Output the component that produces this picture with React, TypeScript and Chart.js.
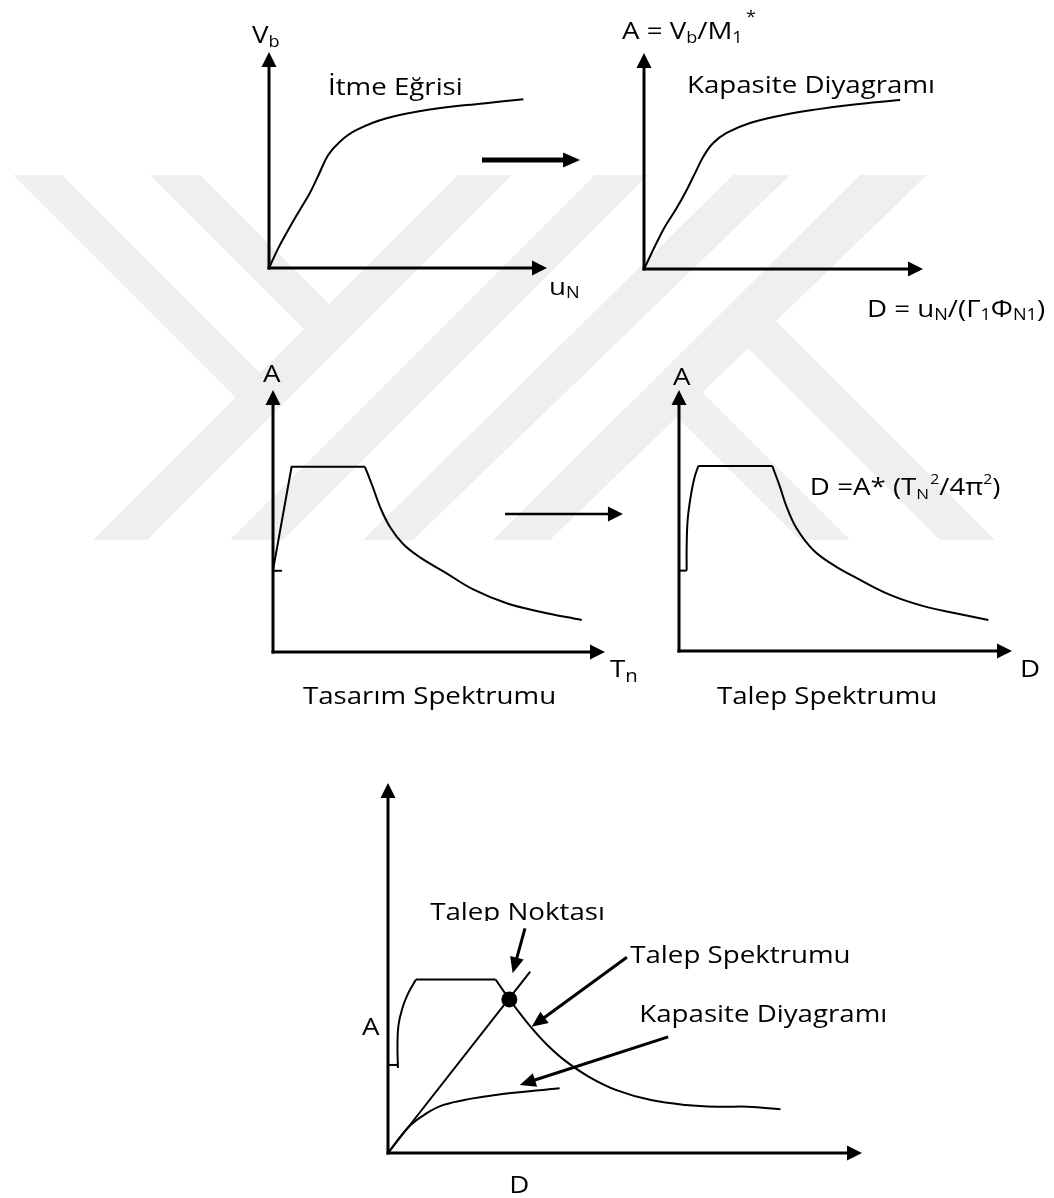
import React, { useEffect, useRef } from "react";
import { Chart, registerables } from "chart.js";

Chart.register(...registerables);

const PAGE_W = 1054;
const PAGE_H = 1198;
const FONT = '"Open Sans", "DejaVu Sans", sans-serif';
const TEXT_SIZE = 24.5;
const TEXT_STRETCH = 1.13;
const INK = "#000000";
const WATERMARK = "#efefef";

// ---------------- data (axis units 0..10 on every diagram) ----------------
// 1) İtme Eğrisi : V_b against u_N
const pushoverU = [0, 0.33, 0.69, 1.11, 1.47, 1.77, 2.13, 2.55, 3.15, 4.23, 5.91, 7.71, 9.15];
const pushoverVb = [0, 0.91, 1.76, 2.69, 3.47, 4.27, 5.23, 5.85, 6.39, 6.93, 7.36, 7.62, 7.81];

// 2) Kapasite Diyagramı : A against D
const capacityD = [0, 0.69, 1.17, 1.53, 1.83, 2.13, 2.48, 2.96, 3.8, 4.99, 6.19, 7.38, 9.18];
const capacityA = [0, 1.82, 2.82, 3.66, 4.44, 5.21, 5.83, 6.3, 6.76, 7.13, 7.39, 7.59, 7.82];

// 3) Tasarım Spektrumu : A against T_n
const designTickT = [0, 0.27];
const designTickA = [3.1, 3.1];
const designRampT = [0.01, 0.56, 2.77];
const designRampA = [3.19, 7.07, 7.07];
const designDecayT = [2.77, 3.02, 3.22, 3.52, 3.92, 4.43, 5.23, 6.03, 7.04, 8.04, 9.3];
const designDecayA = [7.07, 6.25, 5.55, 4.78, 4.12, 3.61, 3.0, 2.39, 1.86, 1.54, 1.22];

// 4) Talep Spektrumu : A against D
const demandTickD = [0, 0.23];
const demandTickA = [3.08, 3.08];
const demandRiseD = [0.23, 0.23, 0.26, 0.35, 0.46, 0.58];
const demandRiseA = [3.08, 4.0, 5.02, 5.91, 6.62, 7.09];
const demandPlateauD = [0.58, 2.8];
const demandPlateauA = [7.09, 7.09];
const demandDecayD = [2.8, 3.03, 3.23, 3.53, 4.03, 4.63, 5.34, 6.34, 7.34, 8.34, 9.29];
const demandDecayA = [7.09, 6.3, 5.53, 4.7, 3.87, 3.3, 2.79, 2.15, 1.72, 1.44, 1.19];

// 5) Talep noktası : both curves on A–D axes
const comboTickD = [0, 0.19];
const comboTickA = [2.38, 2.38];
const comboRiseD = [0.21, 0.2, 0.22, 0.3, 0.42, 0.59];
const comboRiseA = [2.3, 2.9, 3.45, 3.9, 4.3, 4.69];
const comboPlateauD = [0.59, 2.27];
const comboPlateauA = [4.69, 4.69];
const comboDropD = [2.27, 2.56];
const comboDropA = [4.69, 4.15];
const comboDecayD = [2.56, 2.78, 3.07, 3.36, 3.72, 4.24, 4.82, 5.55, 6.28, 7.01, 7.59, 8.28];
const comboDecayA = [4.15, 3.78, 3.32, 2.92, 2.51, 2.06, 1.7, 1.43, 1.3, 1.25, 1.25, 1.18];
const comboCapacityD = [0, 0.44, 0.81, 1.17, 1.76, 2.27, 3.62];
const comboCapacityA = [0, 0.71, 1.07, 1.3, 1.47, 1.57, 1.75];
const comboRadialD = [0, 3.0];
const comboRadialA = [0, 4.9];
const demandPointD = [2.56];
const demandPointA = [4.15];

// ---------------- watermark (background decoration, page pixels) ----------------
const WATERMARK_BANDS: number[][] = [
  [93, 540, 147, 540, 512, 175, 458, 175],
  [230, 540, 283, 540, 648, 175, 595, 175],
  [363, 540, 413, 540, 790, 175, 733, 175],
  [493, 540, 550, 540, 927, 175, 860, 175],
  [13, 175, 62, 175, 285.75, 398.75, 236.75, 398.75],
  [150, 175, 200, 175, 355, 330, 305, 330],
  [650, 390, 700, 390, 850, 540, 800, 540],
  [719, 319, 774, 319, 995, 540, 940, 540],
];

// ---------------- types ----------------
type Run = { t: string; size?: number; dy?: number; dx?: number };
type Label = { x: number; y: number; runs: Run[]; clipBelow?: number };
type Arrow = { x1: number; y1: number; x2: number; y2: number; width: number; headLen: number; headWidth: number };
type Series = { xs: number[]; ys: number[]; tension?: number; width?: number; dot?: number };
type Area = { left: number; top: number; right: number; bottom: number };
type Spec = { area: Area; series: Series[]; labels: Label[]; arrows: Arrow[]; watermark?: boolean };

const SUB = 16;

const SPECS: Spec[] = [
  {
    area: { left: 269, top: 52, right: 547, bottom: 268 },
    watermark: true,
    series: [{ xs: pushoverU, ys: pushoverVb, tension: 0.4 }],
    labels: [
      { x: -0.61, y: 10.42, runs: [{ t: "V" }, { t: "b", size: SUB, dy: 4 }] },
      { x: 2.12, y: 8.01, runs: [{ t: "İtme Eğrisi" }] },
      { x: 10.07, y: -1.25, runs: [{ t: "u" }, { t: "N", size: SUB, dy: 3 }] },
    ],
    arrows: [{ x1: 7.66, y1: 5.0, x2: 11.19, y2: 5.0, width: 5, headLen: 17, headWidth: 15 }],
  },
  {
    area: { left: 644, top: 53, right: 923, bottom: 269 },
    series: [{ xs: capacityD, ys: capacityA, tension: 0.4 }],
    labels: [
      {
        x: -0.79,
        y: 10.65,
        runs: [
          { t: "A = V" },
          { t: "b", size: SUB, dy: 4 },
          { t: "/M" },
          { t: "1", size: SUB, dy: 4 },
          { t: "*", size: SUB, dy: -17, dx: 3 },
        ],
      },
      { x: 1.54, y: 8.15, runs: [{ t: "Kapasite Diyagramı" }] },
      {
        x: 7.99,
        y: -2.22,
        runs: [
          { t: "D = u" },
          { t: "N", size: SUB, dy: 3 },
          { t: "/(Γ" },
          { t: "1", size: SUB, dy: 3 },
          { t: "Φ" },
          { t: "N1", size: SUB, dy: 3 },
          { t: ")" },
        ],
      },
    ],
    arrows: [],
  },
  {
    area: { left: 273, top: 390, right: 605, bottom: 652 },
    series: [
      { xs: designTickT, ys: designTickA },
      { xs: designRampT, ys: designRampA },
      { xs: designDecayT, ys: designDecayA, tension: 0.4 },
    ],
    labels: [
      { x: -0.3, y: 10.31, runs: [{ t: "A" }] },
      { x: 10.15, y: -0.95, runs: [{ t: "T" }, { t: "n", size: 18, dy: 5 }] },
      { x: 0.9, y: -1.98, runs: [{ t: "Tasarım Spektrumu" }] },
    ],
    arrows: [{ x1: 6.99, y1: 5.27, x2: 10.54, y2: 5.27, width: 2.5, headLen: 15, headWidth: 15 }],
  },
  {
    area: { left: 679, top: 390, right: 1012, bottom: 651 },
    series: [
      { xs: demandTickD, ys: demandTickA },
      { xs: demandRiseD, ys: demandRiseA, tension: 0.4 },
      { xs: demandPlateauD, ys: demandPlateauA },
      { xs: demandDecayD, ys: demandDecayA, tension: 0.4 },
    ],
    labels: [
      { x: -0.18, y: 10.19, runs: [{ t: "A" }] },
      {
        x: 3.93,
        y: 5.98,
        runs: [
          { t: "D =A* (T" },
          { t: "N", size: 15, dy: 4 },
          { t: "2", size: 14, dy: -11, dx: 1 },
          { t: "/4π" },
          { t: "2", size: 14, dy: -11 },
          { t: ")" },
        ],
      },
      { x: 10.24, y: -1.0, runs: [{ t: "D" }] },
      { x: 1.14, y: -2.03, runs: [{ t: "Talep Spektrumu" }] },
    ],
    arrows: [],
  },
  {
    area: { left: 388, top: 783, right: 862, bottom: 1153 },
    series: [
      { xs: comboTickD, ys: comboTickA },
      { xs: comboRiseD, ys: comboRiseA, tension: 0.4 },
      { xs: comboPlateauD, ys: comboPlateauA },
      { xs: comboDropD, ys: comboDropA },
      { xs: comboDecayD, ys: comboDecayA, tension: 0.4 },
      { xs: comboCapacityD, ys: comboCapacityA, tension: 0.4 },
      { xs: comboRadialD, ys: comboRadialA },
      { xs: demandPointD, ys: demandPointA, dot: 8 },
    ],
    labels: [
      { x: -0.55, y: 3.19, runs: [{ t: "A" }] },
      { x: 2.56, y: -1.08, runs: [{ t: "D" }] },
      { x: 0.89, y: 6.3, runs: [{ t: "Talep Noktası" }], clipBelow: 1 },
      { x: 5.11, y: 5.14, runs: [{ t: "Talep Spektrumu" }] },
      { x: 5.3, y: 3.54, runs: [{ t: "Kapasite Diyagramı" }] },
    ],
    arrows: [
      { x1: 2.89, y1: 6.07, x2: 2.63, y2: 4.86, width: 3, headLen: 16, headWidth: 14 },
      { x1: 5.04, y1: 5.29, x2: 3.03, y2: 3.41, width: 3, headLen: 16, headWidth: 14 },
      { x1: 5.91, y1: 3.14, x2: 2.78, y2: 1.84, width: 3, headLen: 16, headWidth: 14 },
    ],
  },
];

// ---------------- drawing helpers ----------------
function drawArrow(
  ctx: CanvasRenderingContext2D,
  x1: number,
  y1: number,
  x2: number,
  y2: number,
  width: number,
  headLen: number,
  headWidth: number
) {
  const ang = Math.atan2(y2 - y1, x2 - x1);
  const c = Math.cos(ang);
  const s = Math.sin(ang);
  const bx = x2 - headLen * c;
  const by = y2 - headLen * s;
  ctx.lineWidth = width;
  ctx.lineCap = "butt";
  ctx.beginPath();
  ctx.moveTo(x1, y1);
  ctx.lineTo(bx + c, by + s);
  ctx.stroke();
  ctx.beginPath();
  ctx.moveTo(x2, y2);
  ctx.lineTo(bx + (headWidth / 2) * s, by - (headWidth / 2) * c);
  ctx.lineTo(bx - (headWidth / 2) * s, by + (headWidth / 2) * c);
  ctx.closePath();
  ctx.fill();
}

function drawRich(ctx: CanvasRenderingContext2D, x: number, y: number, runs: Run[], clipBelow?: number) {
  ctx.save();
  if (clipBelow !== undefined) {
    ctx.beginPath();
    ctx.rect(0, 0, PAGE_W, y + clipBelow);
    ctx.clip();
  }
  ctx.translate(x, y);
  ctx.scale(TEXT_STRETCH, 1);
  ctx.textAlign = "left";
  ctx.textBaseline = "alphabetic";
  ctx.fillStyle = INK;
  let cx = 0;
  for (const r of runs) {
    ctx.font = `${r.size ?? TEXT_SIZE}px ${FONT}`;
    cx += r.dx ?? 0;
    ctx.fillText(r.t, cx, r.dy ?? 0);
    cx += ctx.measureText(r.t).width;
  }
  ctx.restore();
}

function drawWatermark(ctx: CanvasRenderingContext2D) {
  ctx.save();
  ctx.fillStyle = WATERMARK;
  for (const p of WATERMARK_BANDS) {
    ctx.beginPath();
    ctx.moveTo(p[0], p[1]);
    for (let i = 2; i < p.length; i += 2) ctx.lineTo(p[i], p[i + 1]);
    ctx.closePath();
    ctx.fill();
  }
  ctx.restore();
}

function makePlugin(spec: Spec) {
  return {
    id: "diagramDecor",
    beforeDraw(chart: any) {
      if (spec.watermark) drawWatermark(chart.ctx);
    },
    afterDatasetsDraw(chart: any) {
      const ctx: CanvasRenderingContext2D = chart.ctx;
      const { left, right, top, bottom } = chart.chartArea;
      const xs = chart.scales.x;
      const ys = chart.scales.y;
      ctx.save();
      ctx.strokeStyle = INK;
      ctx.fillStyle = INK;
      // axes with arrow heads
      drawArrow(ctx, left, bottom + 1.5, left, top, 3, 15, 15);
      drawArrow(ctx, left - 1.5, bottom, right, bottom, 3, 15, 15);
      for (const a of spec.arrows) {
        drawArrow(
          ctx,
          xs.getPixelForValue(a.x1),
          ys.getPixelForValue(a.y1),
          xs.getPixelForValue(a.x2),
          ys.getPixelForValue(a.y2),
          a.width,
          a.headLen,
          a.headWidth
        );
      }
      for (const l of spec.labels) {
        drawRich(ctx, xs.getPixelForValue(l.x), ys.getPixelForValue(l.y), l.runs, l.clipBelow);
      }
      ctx.restore();
    },
  };
}

function buildChart(canvas: HTMLCanvasElement, spec: Spec) {
  const datasets = spec.series.map((s) => ({
    data: s.xs.map((v, i) => ({ x: v, y: s.ys[i] })),
    showLine: !s.dot,
    borderColor: INK,
    backgroundColor: INK,
    borderWidth: s.dot ? 0 : s.width ?? 2,
    tension: s.tension ?? 0,
    pointRadius: s.dot ?? 0,
    pointHoverRadius: 0,
    pointBorderWidth: 0,
    fill: false,
    clip: false as const,
  }));
  const a = spec.area;
  return new Chart(canvas, {
    type: "scatter",
    data: { datasets },
    options: {
      animation: false,
      responsive: false,
      maintainAspectRatio: false,
      devicePixelRatio: 1,
      events: [],
      layout: {
        padding: { left: a.left, top: a.top, right: PAGE_W - a.right, bottom: PAGE_H - a.bottom },
      },
      plugins: { legend: { display: false }, tooltip: { enabled: false }, title: { display: false } },
      scales: {
        x: { type: "linear", min: 0, max: 10, display: false },
        y: { type: "linear", min: 0, max: 10, display: false },
      },
    },
    plugins: [makePlugin(spec)],
  } as any);
}

export default function App() {
  const refs = useRef<(HTMLCanvasElement | null)[]>([]);

  useEffect(() => {
    const charts = SPECS.map((spec, i) => buildChart(refs.current[i] as HTMLCanvasElement, spec));
    return () => charts.forEach((c) => c.destroy());
  }, []);

  return (
    <div
      style={{
        position: "absolute",
        left: 0,
        top: 0,
        width: PAGE_W,
        height: PAGE_H,
        background: "#ffffff",
        overflow: "hidden",
      }}
    >
      {SPECS.map((_, i) => (
        <canvas
          key={i}
          ref={(el) => {
            refs.current[i] = el;
          }}
          width={PAGE_W}
          height={PAGE_H}
          style={{ position: "absolute", left: 0, top: 0, width: PAGE_W, height: PAGE_H }}
        />
      ))}
    </div>
  );
}
